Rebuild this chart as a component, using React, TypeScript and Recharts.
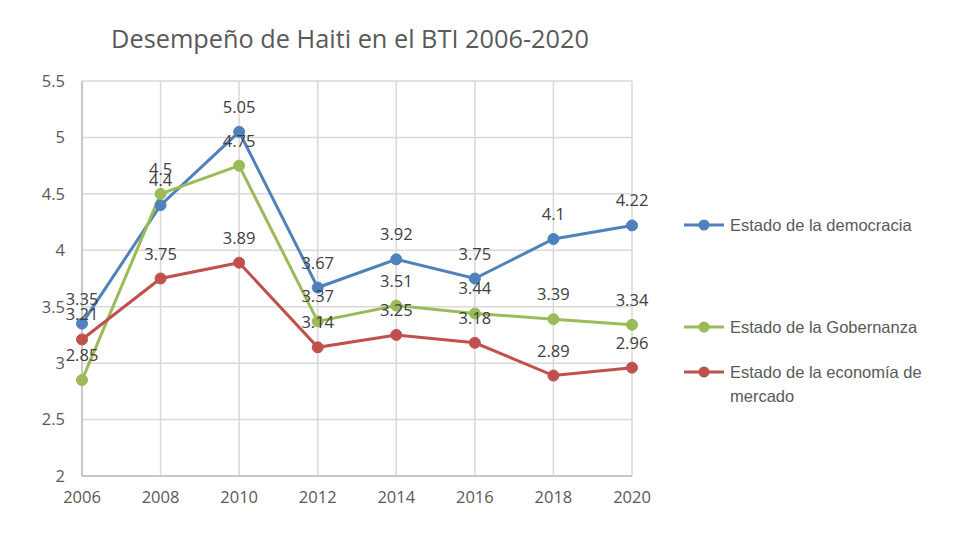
import { LineChart, Line, XAxis, YAxis, CartesianGrid, LabelList } from 'recharts';

const years = ['2006', '2008', '2010', '2012', '2014', '2016', '2018', '2020'];
const democracia = [3.35, 4.4, 5.05, 3.67, 3.92, 3.75, 4.1, 4.22];
const gobernanza = [2.85, 4.5, 4.75, 3.37, 3.51, 3.44, 3.39, 3.34];
const economia = [3.21, 3.75, 3.89, 3.14, 3.25, 3.18, 2.89, 2.96];
const yTicks = [2, 2.5, 3, 3.5, 4, 4.5, 5, 5.5];

const series = [
  { key: 'democracia', name: 'Estado de la democracia', color: '#4F81BD' },
  { key: 'gobernanza', name: 'Estado de la Gobernanza', color: '#9BBB59' },
  { key: 'economia', name: 'Estado de la economía de mercado', color: '#C0504D' },
];

const data = years.map((y, i) => ({
  year: y,
  democracia: democracia[i],
  gobernanza: gobernanza[i],
  economia: economia[i],
}));

const font = '"Open Sans", "Liberation Sans", sans-serif';

// legend entries sit at fixed rows like the original slide
const legendRows = [
  { top: 213, lines: ['Estado de la democracia'] },
  { top: 315, lines: ['Estado de la Gobernanza'] },
  { top: 360, lines: ['Estado de la economía de', 'mercado'] },
];

export default function App() {
  return (
    <div style={{ position: 'absolute', left: 0, top: 0, width: 974, height: 550, background: '#fff', fontFamily: font }}>
      <div style={{
        position: 'absolute', top: 21, left: 0, width: 700, textAlign: 'center',
        fontSize: 25.3, color: '#595959', fontFamily: font,
      }}>
        Desempeño de Haiti en el BTI 2006-2020
      </div>

      <LineChart width={974} height={550} data={data} margin={{ top: 81, right: 342, bottom: 44, left: 0 }}>
        <CartesianGrid stroke="#d9d9d9" strokeWidth={1.5} />
        <XAxis
          dataKey="year"
          height={30}
          stroke="#bfbfbf"
          strokeWidth={1.5}
          tickLine={false}
          tickSize={0}
          tickMargin={15}
          tick={{ fill: '#595959', fontSize: 16.5, fontFamily: font }}
        />
        <YAxis
          width={82}
          domain={[2, 5.5]}
          ticks={yTicks}
          stroke="#bfbfbf"
          strokeWidth={1.5}
          tickLine={false}
          tickSize={0}
          tickMargin={17}
          tick={{ fill: '#595959', fontSize: 16.5, fontFamily: font }}
        />
        {series.map((s) => (
          <Line
            key={s.key}
            dataKey={s.key}
            name={s.name}
            stroke={s.color}
            strokeWidth={3}
            dot={{ r: 5.5, fill: s.color, stroke: s.color, strokeWidth: 1 }}
            isAnimationActive={false}
          >
            <LabelList dataKey={s.key} position="top" offset={19} fill="#404040" fontSize={16.5} fontFamily={font} />
          </Line>
        ))}
      </LineChart>

      {legendRows.map((r, i) => (
        <div key={i} style={{ position: 'absolute', top: r.top, left: 683 }}>
          <svg width={42} height={24} style={{ position: 'absolute', left: 0, top: 0 }}>
            <line x1={1} y1={12} x2={41} y2={12} stroke={series[i].color} strokeWidth={3} />
            <circle cx={21} cy={12} r={5.5} fill={series[i].color} />
          </svg>
          <div style={{ position: 'absolute', left: 47, top: 0, width: 260, fontSize: 16.5, lineHeight: '24px', color: '#595959', fontFamily: '"Liberation Sans", Arial, sans-serif' }}>
            {r.lines.map((l) => <div key={l}>{l}</div>)}
          </div>
        </div>
      ))}
    </div>
  );
}
